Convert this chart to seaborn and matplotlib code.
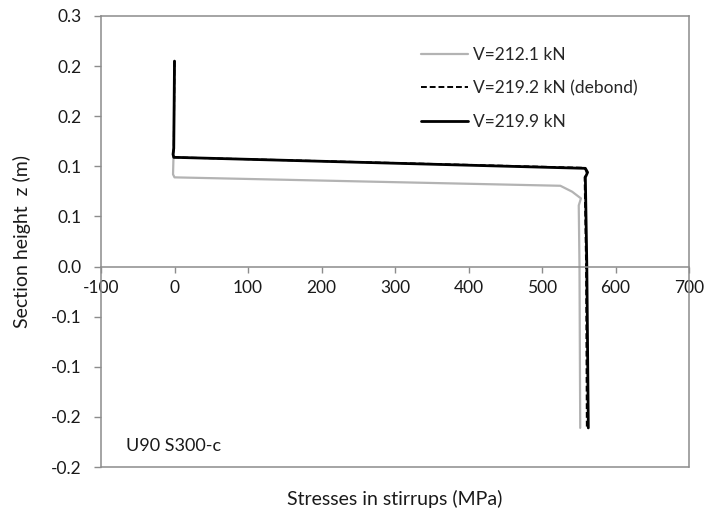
import matplotlib
matplotlib.use("Agg")
import matplotlib.pyplot as plt
import seaborn as sns
import pandas as pd
from matplotlib.lines import Line2D

# Stirrup stress profiles over the section height
labels = ["V=212.1 kN", "V=219.2 kN (debond)", "V=219.9 kN"]

stress_212 = [0, -1, -2, 0, 525, 541, 553, 550, 551, 552]
z_212 = [0.205, 0.120, 0.092, 0.089, 0.0806, 0.0747, 0.068, 0.061, 0.0, -0.161]

stress_219_2 = [0, -1, -2, -1, 558, 561, 558, 560, 561]
z_219_2 = [0.205, 0.117, 0.112, 0.109, 0.0985, 0.094, 0.089, 0.0, -0.161]

stress_219_9 = [0, -1, -2, -1, 559, 562, 559, 561, 563]
z_219_9 = [0.205, 0.118, 0.112, 0.109, 0.098, 0.094, 0.089, 0.0, -0.161]

x_ticks = [-100, 0, 100, 200, 300, 400, 500, 600, 700]
y_ticks = [0.25, 0.20, 0.15, 0.10, 0.05, 0.0, -0.05, -0.10, -0.15, -0.20]
y_tick_labels = ["0.3", "0.2", "0.2", "0.1", "0.1", "0.0", "-0.1", "-0.1", "-0.2", "-0.2"]

sns.set_style("white")
plt.rcParams["font.family"] = ["Lato", "DejaVu Sans"]

frames = []
for name, xs, zs in [(labels[0], stress_212, z_212),
                     (labels[1], stress_219_2, z_219_2),
                     (labels[2], stress_219_9, z_219_9)]:
    frames.append(pd.DataFrame({"stress": xs, "z": zs, "series": name}))
df = pd.concat(frames, ignore_index=True)

styles = {
    labels[0]: dict(color="#b3b3b3", lw=1.6, ls="-"),
    labels[1]: dict(color="black", lw=1.4, ls=(0, (3, 1.5))),
    labels[2]: dict(color="black", lw=2.0, ls="-"),
}

text_c = "#1a1a1a"
fs = 12.5

fig = plt.figure(figsize=(7.08, 5.12), dpi=100)
ax = fig.add_axes([101 / 708, 1 - 467 / 512, 588 / 708, 451 / 512])

for name in labels:
    st = styles[name]
    sns.lineplot(data=df[df["series"] == name], x="stress", y="z", sort=False,
                 estimator=None, ax=ax, color=st["color"], linewidth=st["lw"],
                 linestyle=st["ls"], legend=False)

ax.set_xlim(-100, 700)
ax.set_ylim(-0.2, 0.25)

frame_c = "#8c8c8c"
for s in ["left", "top", "right", "bottom"]:
    ax.spines[s].set_color(frame_c)
    ax.spines[s].set_linewidth(1.1)
ax.spines["bottom"].set_position(("data", 0))
ax.plot([0, 1], [0, 0], transform=ax.transAxes, color=frame_c, lw=1.1, clip_on=False)

ax.set_xticks(x_ticks)
ax.set_xticklabels([str(v) for v in x_ticks])
ax.set_yticks(y_ticks)
ax.set_yticklabels(y_tick_labels)
ax.tick_params(axis="x", direction="out", length=4, width=1, color=frame_c,
               labelsize=fs, labelcolor=text_c, pad=6)
ax.tick_params(axis="y", direction="out", length=5, width=1, color=frame_c,
               labelsize=fs, labelcolor=text_c, pad=9)
ax.tick_params(bottom=True, left=True)

ax.set_xlabel("")
ax.set_ylabel("Section height  z (m)", fontsize=14, color=text_c)
ax.yaxis.set_label_coords(-(101 - 31) / 588, 0.5)
ax.text(0.5, -0.07, "Stresses in stirrups (MPa)", transform=ax.transAxes,
        ha="center", va="center", fontsize=14, color=text_c)
ax.text(-66, -0.179, "U90 S300-c", ha="left", va="center", fontsize=13,
        color=text_c)

handles = [Line2D([], [], **{"color": styles[n]["color"],
                             "linewidth": styles[n]["lw"],
                             "linestyle": styles[n]["ls"]}) for n in labels]
ax.legend(handles, labels, loc="upper left",
          bbox_to_anchor=((421 - 101) / 588, (467 - 47) / 451),
          frameon=False, fontsize=fs, handlelength=2.7, handletextpad=0.3,
          labelspacing=1.0, borderaxespad=0, borderpad=0)

fig.savefig("out.png", dpi=100)
